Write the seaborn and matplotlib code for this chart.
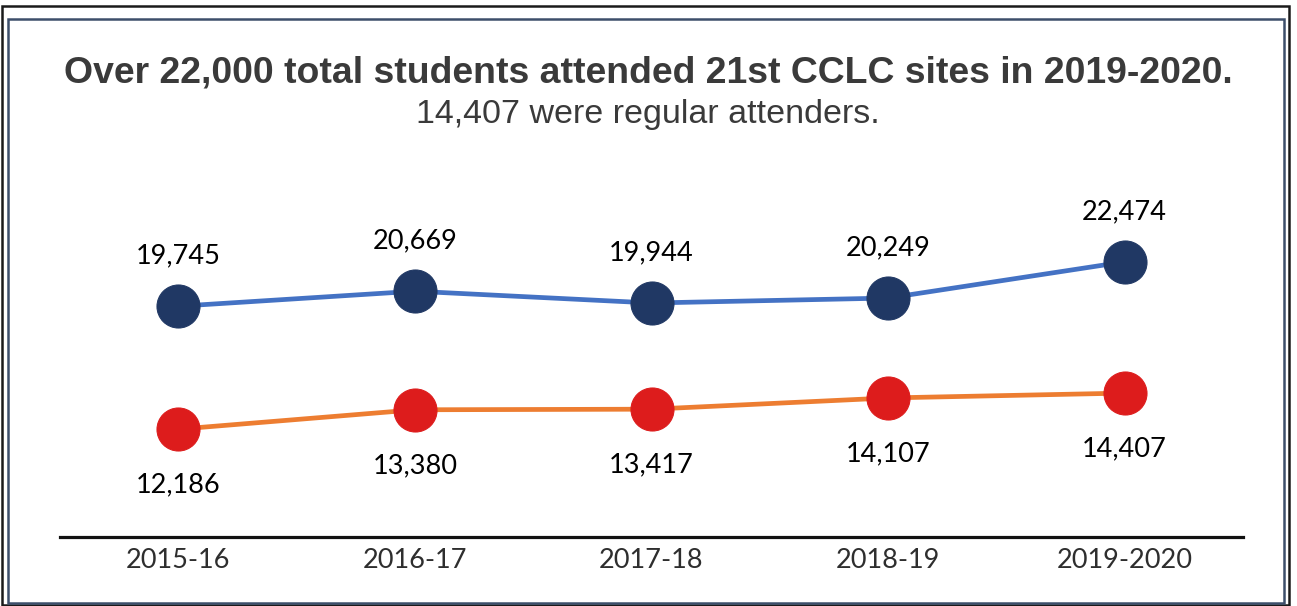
import matplotlib
matplotlib.use("Agg")
import matplotlib.pyplot as plt
import seaborn as sns
import pandas as pd
from matplotlib.patches import Rectangle

# ---- data ----
years = ["2015-16", "2016-17", "2017-18", "2018-19", "2019-2020"]
total_students = [19745, 20669, 19944, 20249, 22474]
regular_attenders = [12186, 13380, 13417, 14107, 14407]

title = "Over 22,000 total students attended 21st CCLC sites in 2019-2020."
subtitle = "14,407 were regular attenders."

sns.set_theme(style="white")
plt.rcParams["font.family"] = ["Lato", "DejaVu Sans"]

W, H = 1297, 606
fig = plt.figure(figsize=(W / 100, H / 100), dpi=100)
fig.patch.set_facecolor("white")

# frame borders
fig.patches.append(Rectangle((2 / W, 1 - 605 / H), 1287 / W, 599 / H, transform=fig.transFigure,
                             fill=False, edgecolor="#1a1a1a", linewidth=1.8))
fig.patches.append(Rectangle((8 / W, 1 - 603 / H), 1276 / W, 584 / H, transform=fig.transFigure,
                             fill=False, edgecolor="#3d4f6b", linewidth=1.8))

ax = fig.add_axes([60 / W, 69 / H, 1183 / W, 357 / H])
ax.set_facecolor("none")

x = list(range(len(years)))
df = pd.DataFrame({"x": x, "total": total_students, "regular": regular_attenders})

sns.lineplot(data=df, x="x", y="total", ax=ax, color="#4472C4", linewidth=3.4,
             marker="o", markersize=31, markerfacecolor="#203864", markeredgecolor="#203864")
sns.lineplot(data=df, x="x", y="regular", ax=ax, color="#ED7D31", linewidth=3.4,
             marker="o", markersize=31, markerfacecolor="#DD1C1C", markeredgecolor="#DD1C1C")

for xi, v in zip(x, total_students):
    ax.annotate(f"{v:,}", (xi, v), xytext=(0, 36), textcoords="offset points",
                ha="center", va="center", fontsize=19.5, color="#000000")
for xi, v in zip(x, regular_attenders):
    ax.annotate(f"{v:,}", (xi, v), xytext=(0, -40), textcoords="offset points",
                ha="center", va="center", fontsize=19.5, color="#000000")

ax.set_xlim(-0.5, 4.5)
ax.set_ylim(5560, 27505)
ax.set_xticks(x)
ax.set_xticklabels(years, fontsize=19.5, color="#2e2e2e")
ax.set_yticks([])
ax.set_xlabel("")
ax.set_ylabel("")
ax.tick_params(axis="x", length=0, pad=8)
for s in ["top", "left", "right"]:
    ax.spines[s].set_visible(False)
ax.spines["bottom"].set_color("#111111")
ax.spines["bottom"].set_linewidth(2.3)

fig.text(648 / W, 1 - 73 / H, title, ha="center", va="center", fontsize=26.9,
         fontweight="bold", color="#3a3a3a", family=["Liberation Sans", "DejaVu Sans"])
fig.text(648 / W, 1 - 115 / H, subtitle, ha="center", va="center", fontsize=24.5,
         color="#3a3a3a", family=["Liberation Sans", "DejaVu Sans"])

fig.savefig("out.png", dpi=100, facecolor="white")
